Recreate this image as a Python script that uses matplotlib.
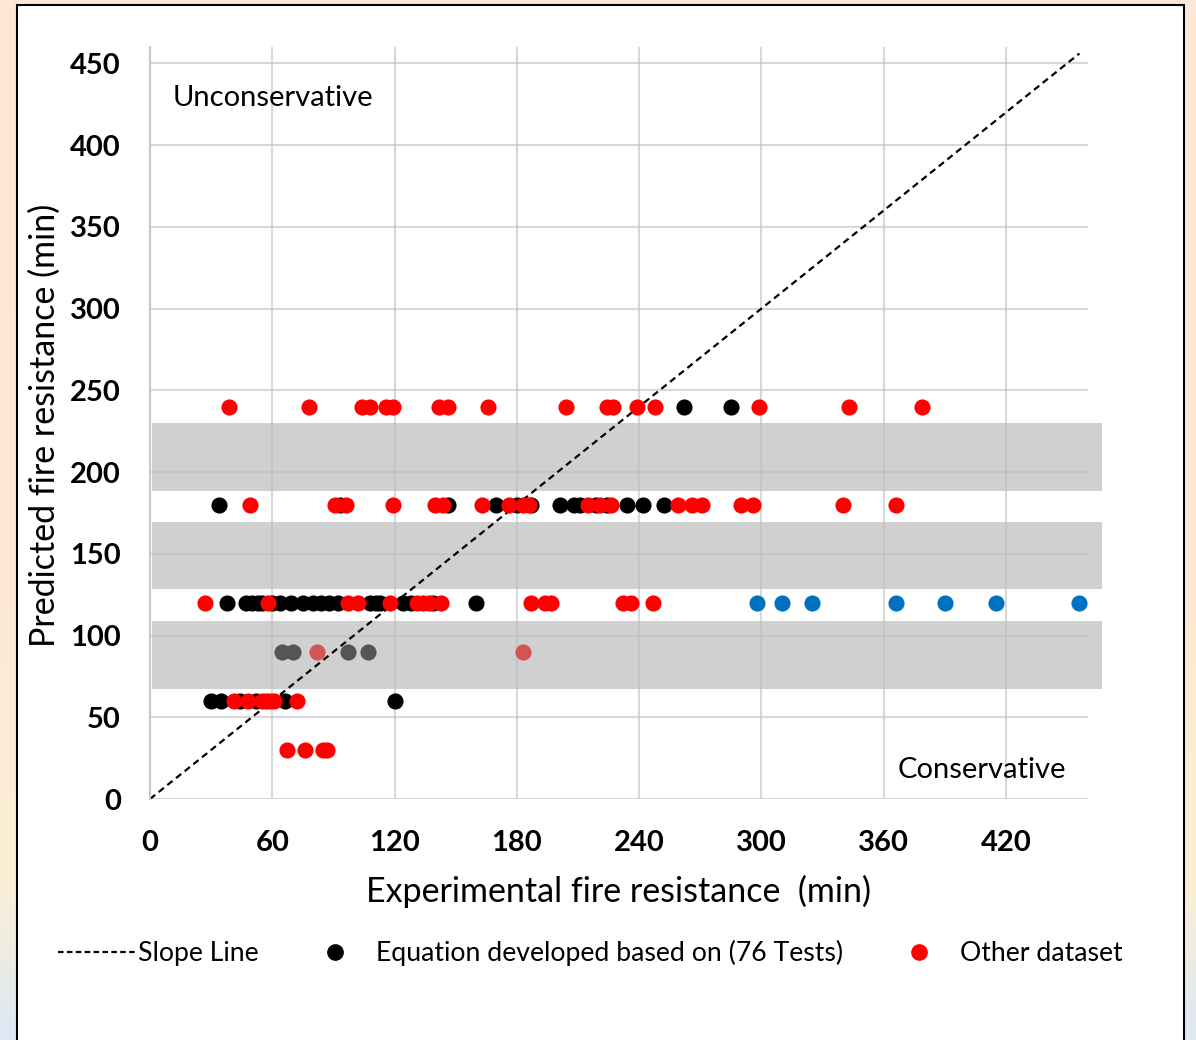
import numpy as np
import matplotlib
matplotlib.use("Agg")
import matplotlib.pyplot as plt
from matplotlib.patches import Rectangle
from matplotlib.lines import Line2D
from matplotlib.colors import LinearSegmentedColormap

plt.rcParams['font.family'] = ['Lato', 'DejaVu Sans']

black_240 = [262, 285]
red_240 = [39, 78, 104, 108, 116, 119, 142, 146, 166, 204, 224, 227, 239, 248, 299, 343, 379]

black_180 = [34, 93, 146, 170, 180, 187, 201, 208, 211, 219, 224, 234, 242, 252]
red_180 = [49, 91, 96, 119, 140, 144, 163, 176, 183, 186, 215, 221, 226, 259, 266, 271, 290, 296, 340, 366]

black_120 = [38, 47, 50, 53, 55, 60, 64, 69, 75, 80, 84, 88, 92, 108, 111, 113, 124, 128, 139, 160]
red_120 = [27, 58, 97, 102, 118, 131, 134, 137, 143, 187, 194, 197, 232, 236, 247]
blue_120 = [298, 310, 325, 366, 390, 415, 456]

black_90 = [65, 70, 97, 107]
red_90 = [82, 183]

black_60 = [30, 35, 44, 52, 66, 120]
red_60 = [41, 48, 55, 57, 59, 61, 72]

red_30 = [67, 76, 85, 87]

# shaded bands (min)
bands = [(67, 109), (128.5, 169.5), (188.5, 230)]

slope_x = [0, 456]
xticks = [0, 60, 120, 180, 240, 300, 360, 420]
yticks = [0, 50, 100, 150, 200, 250, 300, 350, 400, 450]


def pts(levels):
    xs, ys = [], []
    for y, vals in levels:
        xs += vals
        ys += [y] * len(vals)
    return xs, ys


fig = plt.figure(figsize=(11.96, 10.4), dpi=100)

# background gradient and white panel
bg = fig.add_axes([0, 0, 1, 1], zorder=-10)
cmap = LinearSegmentedColormap.from_list(
    "bg", [(0, "#fce7d6"), (0.6, "#fce9d4"), (0.85, "#fcefd6"), (1, "#dde8f3")])
bg.imshow(np.linspace(0, 1, 200).reshape(-1, 1), aspect="auto", cmap=cmap,
          extent=[0, 1, 0, 1], origin="upper")
bg.set_xlim(0, 1)
bg.set_ylim(0, 1)
bg.axis("off")
bg.add_patch(Rectangle((17 / 1196, -0.01), (1184 - 17) / 1196, 1.01 - 5 / 1040,
                       facecolor="white", edgecolor="black", lw=1.5))

ax = fig.add_axes([150 / 1196, 1 - 799 / 1040, (1087.5 - 150) / 1196, (799 - 47) / 1040])
ax.set_facecolor("none")
ax.set_xlim(0, 460)
ax.set_ylim(0, 460)

for lo, hi in bands:
    ax.axhspan(lo, hi, xmin=0.002, xmax=1.015, color="#d0d0d0", lw=0, zorder=0, clip_on=False)

ax.set_xticks(xticks)
ax.set_yticks(yticks)
ax.grid(True, color="#bfbfbf", alpha=0.6, lw=1.5, zorder=1)
ax.set_axisbelow(True)
for s in ["top", "right", "bottom"]:
    ax.spines[s].set_visible(False)
ax.spines["left"].set_color("#c8c8c8")
ax.spines["left"].set_linewidth(1.5)
ax.tick_params(length=0, labelsize=21)
ax.tick_params(axis="x", pad=22)
ax.tick_params(axis="y", pad=21)
for lab in ax.get_xticklabels() + ax.get_yticklabels():
    lab.set_fontweight("bold")

ax.plot(slope_x, slope_x, color="black", ls=(0, (3, 2)), lw=1.6, zorder=2)

ms = 135
bx, by = pts([(240, black_240), (180, black_180), (120, black_120), (60, black_60)])
rx, ry = pts([(240, red_240), (180, red_180), (120, red_120), (60, red_60), (30, red_30)])
ax.scatter(bx, by, s=ms, color="black", lw=0, zorder=3)
ax.scatter(rx, ry, s=ms, color="#ff0000", lw=0, zorder=4)
ax.scatter(blue_120, [120] * len(blue_120), s=ms, color="#0070c0", lw=0, zorder=4)
ax.scatter(black_90, [90] * len(black_90), s=ms, color="#555555", lw=0, zorder=3)
ax.scatter(red_90, [90] * len(red_90), s=ms, color="#d25454", lw=0, zorder=3)

ax.text(11, 429, "Unconservative", fontsize=21, va="center", ha="left")
ax.text(449.5, 18, "Conservative", fontsize=21, va="center", ha="right")

ax.set_xlabel("Experimental fire resistance  (min)", fontsize=24.5, labelpad=14)
fig.text(45 / 1196, 1 - 425 / 1040, "Predicted fire resistance (min)", fontsize=24.5,
         rotation=90, ha="center", va="center")

handles = [
    Line2D([], [], color="black", ls=(0, (2.5, 1.5)), lw=1.6),
    Line2D([], [], color="black", marker="o", ls="none", markersize=11),
    Line2D([], [], color="#ff0000", marker="o", ls="none", markersize=11),
]
labels = ["Slope Line", "Equation developed based on (76 Tests)", "Other dataset"]
fig.legend(handles, labels, loc="center left", bbox_to_anchor=(58 / 1196, 1 - 953 / 1040),
           ncol=3, frameon=False, fontsize=19.2, handlelength=2.9, handletextpad=0.1,
           columnspacing=1.4, borderpad=0, borderaxespad=0)

fig.savefig("out.png", dpi=100)
